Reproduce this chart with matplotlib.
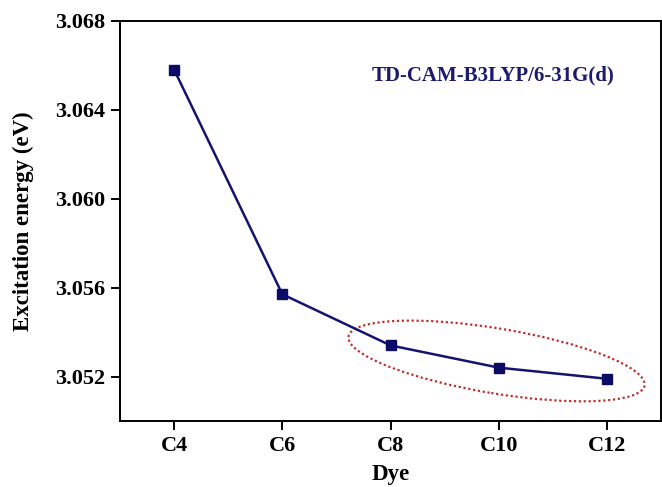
import numpy as np
import matplotlib
matplotlib.use('Agg')
import matplotlib.pyplot as plt
from matplotlib.patches import Ellipse
from matplotlib.transforms import ScaledTranslation

dyes = ['C4', 'C6', 'C8', 'C10', 'C12']
energy = [3.0658, 3.0557, 3.0534, 3.0524, 3.0519]  # eV
method = 'TD-CAM-B3LYP/6-31G(d)'

plt.rcParams['font.family'] = 'Liberation Serif'
plt.rcParams['font.weight'] = 'bold'

fig = plt.figure(figsize=(6.62, 4.87), dpi=100)
ax = fig.add_axes([0.1813, 0.1355, 0.8172, 0.822])

x = np.arange(len(dyes))
ax.plot(x, energy, color='#14146e', lw=1.8, marker='s', ms=7.2,
        mfc='#0c0c66', mec='#0c0c66')

ax.set_xlim(-0.5, 4.5)
ax.set_ylim(3.050, 3.068)
ax.set_xticks(x)
ax.set_xticklabels(dyes)
ax.set_yticks([3.052, 3.056, 3.060, 3.064, 3.068])
ax.yaxis.set_major_formatter(plt.FormatStrFormatter('%.3f'))
ax.tick_params(direction='out', length=6.5, width=1.4, labelsize=16, pad=4)
for s in ax.spines.values():
    s.set_linewidth(1.4)

ax.set_xlabel('Dye', fontsize=16.5, fontweight='bold', labelpad=6)
ax.set_ylabel('Excitation energy (eV)', fontsize=16.5, fontweight='bold', labelpad=15)

ax.text(0.689, 0.864, method, transform=ax.transAxes, ha='center', va='center',
        fontsize=15, fontweight='bold', color='#1a1a6e')

# dotted ring around the flat tail, sized in inches, centred on a data point
ring_tr = fig.dpi_scale_trans + ScaledTranslation(2.98, 3.0527, ax.transData)
ax.add_patch(Ellipse((0, 0), 3.0, 0.65, angle=-9.4, transform=ring_tr,
                     fill=False, ec='#c0302a', lw=1.6, ls=(0, (1, 1.2)),
                     clip_on=False))

fig.savefig('out.png', dpi=100)
